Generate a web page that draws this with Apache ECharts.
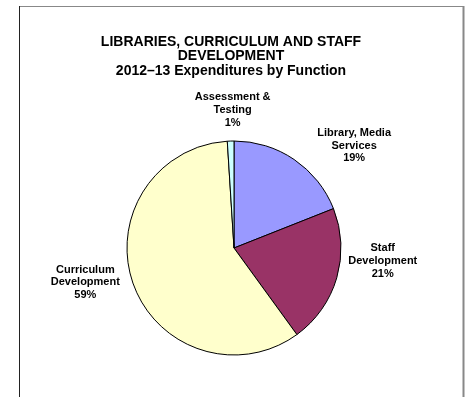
<!DOCTYPE html>
<html>
<head>
<meta charset="utf-8">
<script src="https://cdn.jsdelivr.net/npm/echarts@6/dist/echarts.min.js"></script>
<style>
  html, body { margin: 0; padding: 0; background: #fff; }
  #chart { width: 468px; height: 397px; }
</style>
</head>
<body>
<div id="chart"></div>
<script>
// Spending shares by function, in percent
const categories = ['Library, Media\nServices', 'Staff\nDevelopment', 'Curriculum\nDevelopment', 'Assessment &\nTesting'];
const shares = [19, 21, 59, 1];
const sliceColors = ['#9999FF', '#993366', '#FFFFCC', '#CCFFFF'];
const titleLines = ['LIBRARIES, CURRICULUM AND STAFF', 'DEVELOPMENT', '2012\u201313 Expenditures by Function'];

const FONT = '"Liberation Sans", Arial, Helvetica, sans-serif';
const CX = 234, CY = 248, R = 107;
// label centre offset from the slice's rim midpoint
const labelOffsets = [[60, -14], [46, -17], [-48, -2], [2, -31]];

const total = shares.reduce((a, b) => a + b, 0);
function rimPoint(i) {
  let before = 0;
  for (let k = 0; k < i; k++) before += shares[k];
  const mid = (before + shares[i] / 2) / total * 2 * Math.PI; // clockwise from 12 o'clock
  return [CX + R * Math.sin(mid), CY - R * Math.cos(mid)];
}

const chart = echarts.init(document.getElementById('chart'), null, { renderer: 'canvas' });
chart.setOption({
  animation: false,
  backgroundColor: '#fff',
  graphic: [
    { type: 'line', shape: { x1: 19, y1: 6.5, x2: 464, y2: 6.5 }, style: { stroke: '#888', lineWidth: 1 } },
    { type: 'line', shape: { x1: 19.5, y1: 6, x2: 19.5, y2: 397 }, style: { stroke: '#222', lineWidth: 1 } },
    { type: 'line', shape: { x1: 463.5, y1: 6, x2: 463.5, y2: 397 }, style: { stroke: '#888', lineWidth: 2 } },
    {
      type: 'text',
      x: 231, y: 56.5,
      style: {
        text: titleLines.join('\n'),
        fontFamily: FONT, fontWeight: 'bold', fontSize: 14, lineHeight: 14.5,
        fill: '#000', align: 'center', verticalAlign: 'middle'
      }
    }
  ],
  series: [{
    type: 'pie',
    center: [CX, CY],
    radius: R,
    startAngle: 90,
    clockwise: true,
    avoidLabelOverlap: false,
    data: categories.map((name, i) => ({
      name: name, value: shares[i], itemStyle: { color: sliceColors[i] }
    })),
    itemStyle: { borderColor: '#000', borderWidth: 1 },
    label: {
      show: true,
      position: 'outside',
      formatter: '{b}\n{c}%',
      fontFamily: FONT, fontWeight: 'bold', fontSize: 11, lineHeight: 12.7,
      color: '#000', align: 'center'
    },
    labelLine: { show: false },
    labelLayout: function (params) {
      const i = params.dataIndex;
      const p = rimPoint(i);
      return {
        x: p[0] + labelOffsets[i][0],
        y: p[1] + labelOffsets[i][1],
        align: 'center',
        verticalAlign: 'middle'
      };
    },
    emphasis: { disabled: true }
  }]
});
</script>
</body>
</html>
